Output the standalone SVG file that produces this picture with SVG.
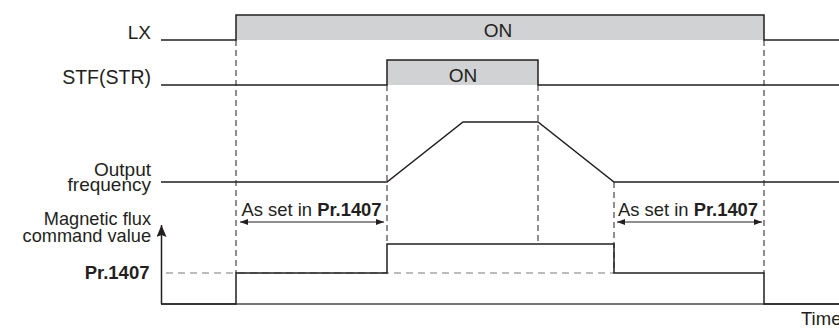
<svg xmlns="http://www.w3.org/2000/svg" width="839" height="329" viewBox="0 0 839 329">
<style>
.t{font-family:"Liberation Sans",Arial,sans-serif;fill:#231f20}
.b{font-weight:bold}
.ln{stroke:#231f20;stroke-width:1.5;fill:none}
.gb{fill:#d1d2d3}
.ds{stroke:#231f20;stroke-width:1;stroke-dasharray:6,4;fill:none}
.dg{stroke:#7a7a7a;stroke-width:1.2;stroke-dasharray:7,5;fill:none}
.ar{stroke:#231f20;stroke-width:1;fill:none}
</style>
<defs>
<marker id="ah" viewBox="0 0 8 6" refX="8" refY="3" markerWidth="8" markerHeight="6" orient="auto-start-reverse" markerUnits="userSpaceOnUse">
<path d="M0,0 L8,3 L0,6 Z" fill="#231f20"/>
</marker>
<marker id="axh" viewBox="0 0 10 12" refX="5" refY="0" markerWidth="10" markerHeight="12" orient="0" markerUnits="userSpaceOnUse">
<path d="M5,0 L10,12 L5,10 L0,12 Z" fill="#231f20"/>
</marker>
</defs>

<g id="labels">
<text class="t" x="151" y="39" text-anchor="end" font-size="19">LX</text>
<text class="t" x="151" y="84" text-anchor="end" font-size="19.5">STF(STR)</text>
<text class="t" x="151" y="176" text-anchor="end" font-size="19">Output</text>
<text class="t" x="151" y="191" text-anchor="end" font-size="19">frequency</text>
<text class="t" x="151" y="225" text-anchor="end" font-size="18.2">Magnetic flux</text>
<text class="t" x="151" y="242" text-anchor="end" font-size="18.2">command value</text>
<text class="t b" x="149.5" y="279" text-anchor="end" font-size="18.5">Pr.1407</text>
<text class="t" x="801" y="325" font-size="18.5">Time</text>
</g>

<g id="lx">
<rect class="gb" x="236" y="15" width="528" height="25"/>
<polyline class="ln" points="161,40 236,40 236,15 764,15 764,40 839,40"/>
<text class="t" x="498" y="36.5" text-anchor="middle" font-size="19">ON</text>
</g>

<g id="stf">
<rect class="gb" x="387" y="60" width="151" height="25"/>
<polyline class="ln" points="161,85 387,85 387,60 538,60 538,85 839,85"/>
<text class="t" x="463" y="81.5" text-anchor="middle" font-size="19">ON</text>
</g>

<g id="freq">
<polyline class="ln" points="161,182 387,182 463,122 538,122 614,182 839,182"/>
</g>

<g id="flux">
<line class="dg" x1="166" y1="273" x2="614" y2="273"/>
<line x1="161" y1="304" x2="839" y2="304" stroke="#4a4a4a" stroke-width="1.5"/>
<line class="ln" x1="161.5" y1="304" x2="161.5" y2="225" marker-end="url(#axh)"/>
<polyline class="ln" points="161,304 236,304 236,273 387,273 387,244 614,244 614,273 764,273 764,304 839,304"/>
</g>

<g id="connectors">
<line class="ds" x1="236" y1="40" x2="236" y2="273"/>
<line class="ds" x1="387" y1="85" x2="387" y2="244"/>
<line class="ds" x1="538" y1="85" x2="538" y2="244"/>
<line class="ds" x1="614" y1="182" x2="614" y2="273"/>
<line class="ds" x1="764" y1="40" x2="764" y2="273"/>
<line class="ar" x1="240" y1="222" x2="384" y2="222" marker-start="url(#ah)" marker-end="url(#ah)"/>
<line class="ar" x1="617" y1="222" x2="762" y2="222" marker-start="url(#ah)" marker-end="url(#ah)"/>
</g>

<g id="notes">
<text class="t" x="241.5" y="216" font-size="18.4">As set in <tspan class="b">Pr.1407</tspan></text>
<text class="t" x="618" y="216" font-size="18.4">As set in <tspan class="b">Pr.1407</tspan></text>
</g>
</svg>
